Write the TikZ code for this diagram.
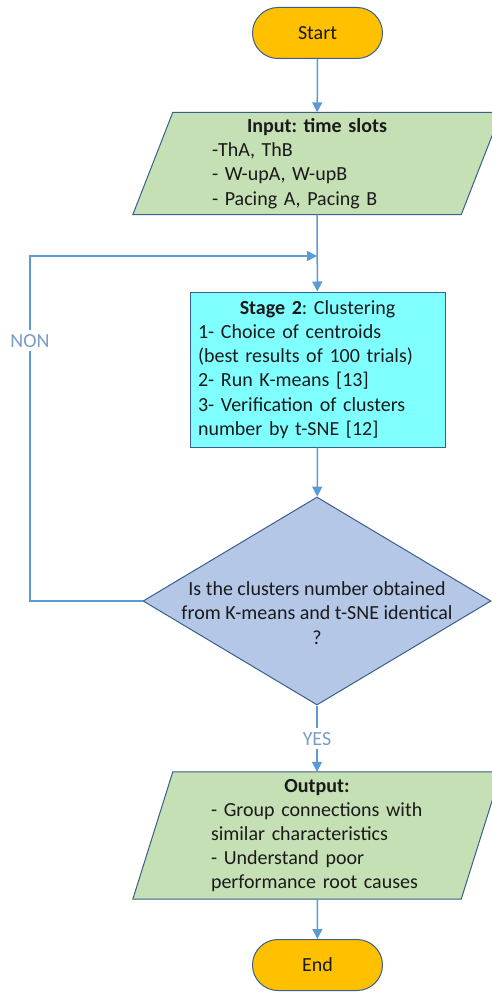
\documentclass[tikz,border=0pt]{standalone}
\usepackage{fontspec}
\setmainfont{Carlito}
\usetikzlibrary{arrows.meta,shapes.geometric}
\frenchspacing

\definecolor{flowline}{HTML}{5B9BD5}
\definecolor{shapeedge}{HTML}{3A5F8F}
\definecolor{termfill}{HTML}{FFC000}
\definecolor{iofill}{HTML}{C5E0B4}
\definecolor{procfill}{HTML}{80FFFF}
\definecolor{decfill}{HTML}{B4C7E7}
\definecolor{branchtext}{HTML}{7A9CC6}
\definecolor{bodytext}{HTML}{1A1A1A}

\tikzset{
  every node/.style={font=\fontsize{20}{24.2}\selectfont, text=bodytext},
  terminal/.style={draw=shapeedge, fill=termfill, line width=1pt,
    rounded corners=25.5pt, minimum width=130pt, minimum height=51pt, inner sep=0pt},
  ioframe/.style={inner sep=0pt, minimum width=328pt},
  iotext/.style={inner sep=0pt, align=left},
  ioborder/.style={draw=shapeedge, fill=iofill, line width=1pt},
  process/.style={draw=shapeedge, fill=procfill, line width=1pt,
    minimum width=255pt, minimum height=155pt, text width=239pt,
    inner xsep=8pt, inner ysep=0pt, align=left},
  decision/.style={diamond, draw=shapeedge, fill=decfill, line width=1pt,
    minimum width=348pt, minimum height=208pt, inner sep=0pt},
  flow/.style={draw=flowline, line width=1.5pt,
    -{Triangle[width=10pt,length=10pt]}},
  branch/.style={fill=white, text=branchtext, inner xsep=1pt, inner ysep=4pt}
}

\begin{document}
\begin{tikzpicture}[x=1pt,y=-1pt]
  \useasboundingbox (0,0) rectangle (491,992);

  % terminals
  \node[terminal] (start) at (317.5,33) {Start};
  \node[terminal] (end)   at (317.5,965) {End};

  % input data: slanted frame around a centred text block
  \node[ioframe, minimum height=102pt] (in) at (317,163.5) {};
  \draw[ioborder] ([xshift=-20pt]in.south west) -- ([xshift=20pt]in.north west)
    -- ([xshift=20pt]in.north east) -- ([xshift=-20pt]in.south east) -- cycle;
  \node[iotext, text width=210pt] (intext) at (in.center)
    {\makebox[\linewidth]{\textbf{Input: time slots}}\\
     -ThA, ThB\\
     - W-upA, W-upB\\
     - Pacing A, Pacing B};

  % clustering stage
  \node[process] (stage) at (317.5,369.5)
    {\makebox[\linewidth]{\textbf{Stage 2}: Clustering}\\
     1- Choice of centroids\\
     (best results of 100 trials)\\
     2- Run K-means [13]\\
     3- Verification of clusters\\
     number by t-SNE [12]};

  % decision
  \node[decision] (dec) at (317,601) {};
  \node[align=center, inner sep=0pt] (dectext) at (317,613)
    {Is the clusters number obtained\\
     from K-means and t-SNE identical\\
     ?};

  % output data
  \node[ioframe, minimum height=127pt] (out) at (317,835.5) {};
  \draw[ioborder] ([xshift=-20pt]out.south west) -- ([xshift=20pt]out.north west)
    -- ([xshift=20pt]out.north east) -- ([xshift=-20pt]out.south east) -- cycle;
  \node[iotext, text width=212pt] (outtext) at (out.center)
    {\makebox[\linewidth]{\textbf{Output:}}\\
     - Group connections with\\
     similar characteristics\\
     - Understand poor\\
     performance root causes};

  % connectors
  \coordinate (loopbottom) at (30,601);
  \coordinate (loopcorner) at (30,256);
  \coordinate (loopjoin) at (317,256);
  \draw[flow] (start) -- (in);
  \draw[flow] (in) -- (stage);
  \draw[flow] (stage) -- (dec);
  \draw[flow] (dec) -- node[branch] (yes) {YES} (out);
  \draw[flow] (out) -- (end);
  \draw[flow] (dec.west) -- (loopbottom)
    -- node[branch, pos=0.754] (non) {NON} (loopcorner) -- (loopjoin);
\end{tikzpicture}
\end{document}
